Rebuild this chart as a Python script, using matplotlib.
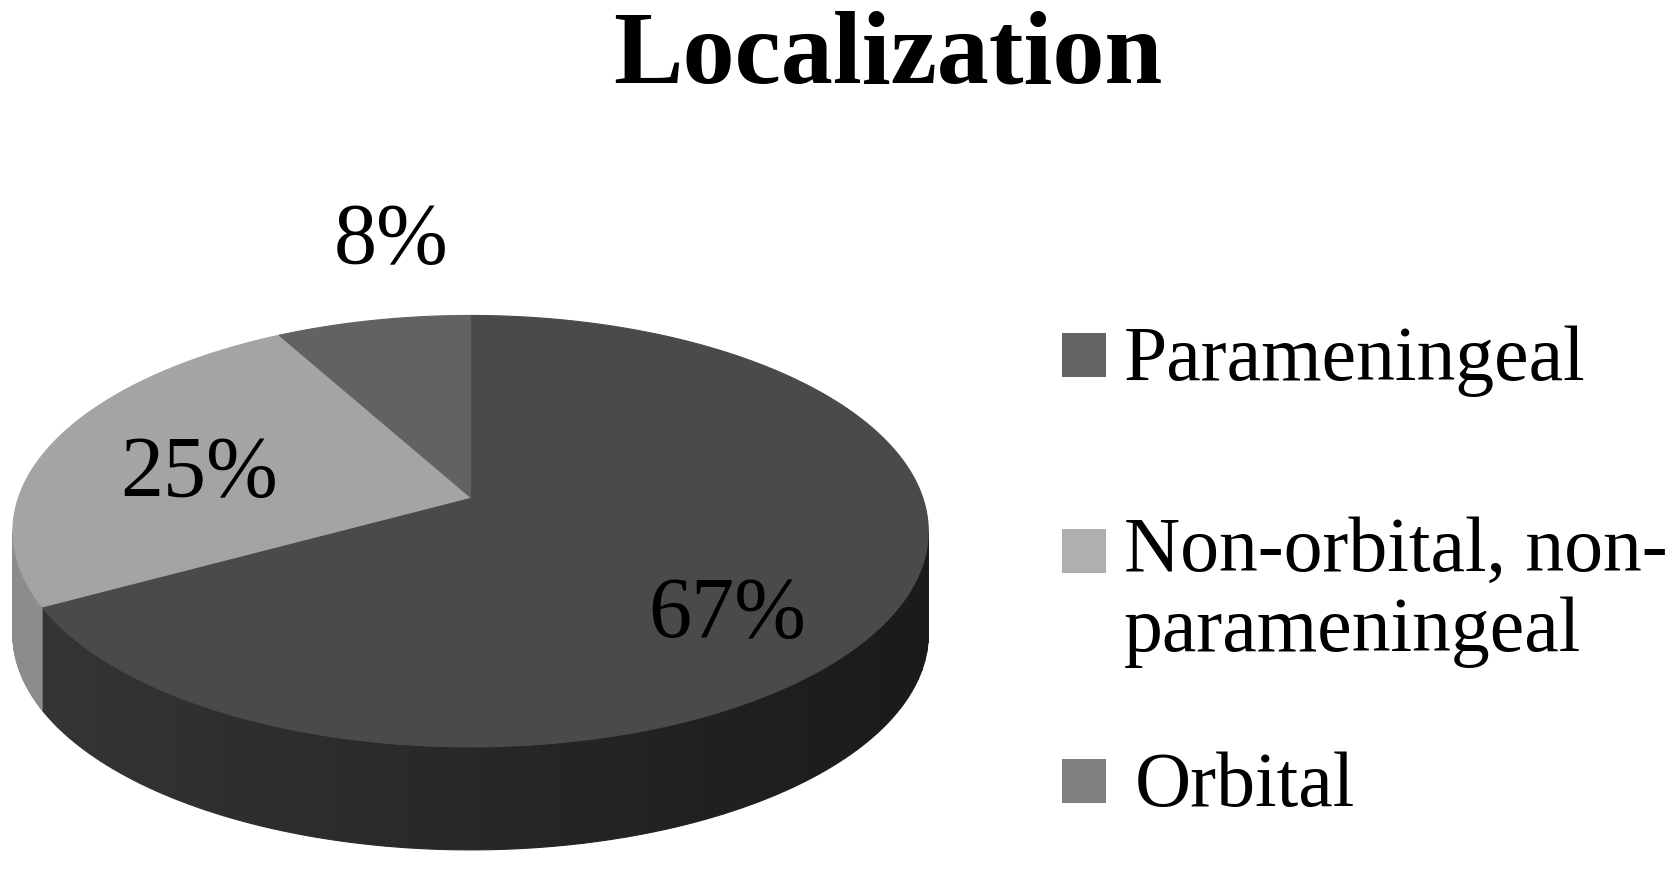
import numpy as np
import matplotlib.pyplot as plt
from matplotlib.colors import to_rgb
from matplotlib.patches import Rectangle

plt.rcParams['font.family'] = ['Liberation Serif', 'DejaVu Serif']

title = "Localization"
categories = ["Parameningeal", "Non-orbital, non-\nparameningeal", "Orbital"]
percent = [67, 25, 8]

top_colors = ["#4a4a4a", "#a4a4a4", "#626262"]
legend_colors = ["#646464", "#afafaf", "#808080"]
side_colors = [("#353535", "#1a1a1a"), ("#8c8c8c", "#8c8c8c"), ("#555555", "#555555")]

W, H = 1677, 869
fig = plt.figure(figsize=(W / 100, H / 100), dpi=100)
ax = fig.add_axes([0, 0, 1, 1])
ax.set_xlim(0, W)
ax.set_ylim(H, 0)
ax.axis('off')

# 3d pie geometry (pixels)
cx, cy = 470.6, 497.3
A, B, K = 452.0, 210.4, 0.157
depth = 103


def project(t, r=1.0):
    x = r * np.cos(t)
    y = r * np.sin(t)
    d = 1 + K * y
    return cx + A * x / d, cy - B * y / d


frac = np.array(percent, dtype=float) / sum(percent)
ends = np.pi / 2 - 2 * np.pi * np.cumsum(frac)
starts = np.concatenate([[np.pi / 2], ends[:-1]])

# visible front rim
a = np.arcsin(K)
front_lo, front_hi = -np.pi + a, -a
xl, _ = project(np.pi + a)
xr, _ = project(-a)

for i in range(len(percent)):
    c0, c1 = np.array(to_rgb(side_colors[i][0])), np.array(to_rgb(side_colors[i][1]))
    for shift in (-2 * np.pi, 0, 2 * np.pi):
        lo = max(ends[i] + shift, front_lo)
        hi = min(starts[i] + shift, front_hi)
        if hi <= lo:
            continue
        n = 60
        edges = np.linspace(lo, hi, n + 1)
        for j in range(n):
            t = np.linspace(edges[j], edges[j + 1], 6)
            px, py = project(t)
            xs = np.concatenate([px, px[::-1]])
            ys = np.concatenate([py, py[::-1] + depth])
            f = np.clip((px.mean() - xl) / (xr - xl), 0, 1)
            col = c0 + (c1 - c0) * f
            ax.fill(xs, ys, color=col, lw=0.8, ec=col)

for i in range(len(percent)):
    t = np.linspace(starts[i], ends[i], 200)
    px, py = project(t)
    ax.fill(np.concatenate([[cx], px]), np.concatenate([[cy], py]),
            color=top_colors[i], lw=0.8, ec=top_colors[i])

# data labels
label_xy = [(727, 637), (199, 496), (391, 263)]
for p, (lx, ly) in zip(percent, label_xy):
    ax.text(lx, ly, f"{p}%", fontsize=62, ha='center', va='baseline', color='black')

ax.text(888, 82, title, fontsize=75, fontweight='bold', ha='center', va='baseline')

# legend
sq = 44
sq_x = 1062
sq_cy = [355, 551, 781]
txt_x = [1124, 1124, 1135]
txt_base = [380, 651, 806]   # baseline of last line
for i, cat in enumerate(categories):
    ax.add_patch(Rectangle((sq_x, sq_cy[i] - sq / 2), sq, sq, color=legend_colors[i], lw=0))
    t = ax.text(txt_x[i], txt_base[i], cat, fontsize=56, ha='left', va='baseline')
    t.set_linespacing(1.15)

fig.savefig("out.png", dpi=100, facecolor='white')
